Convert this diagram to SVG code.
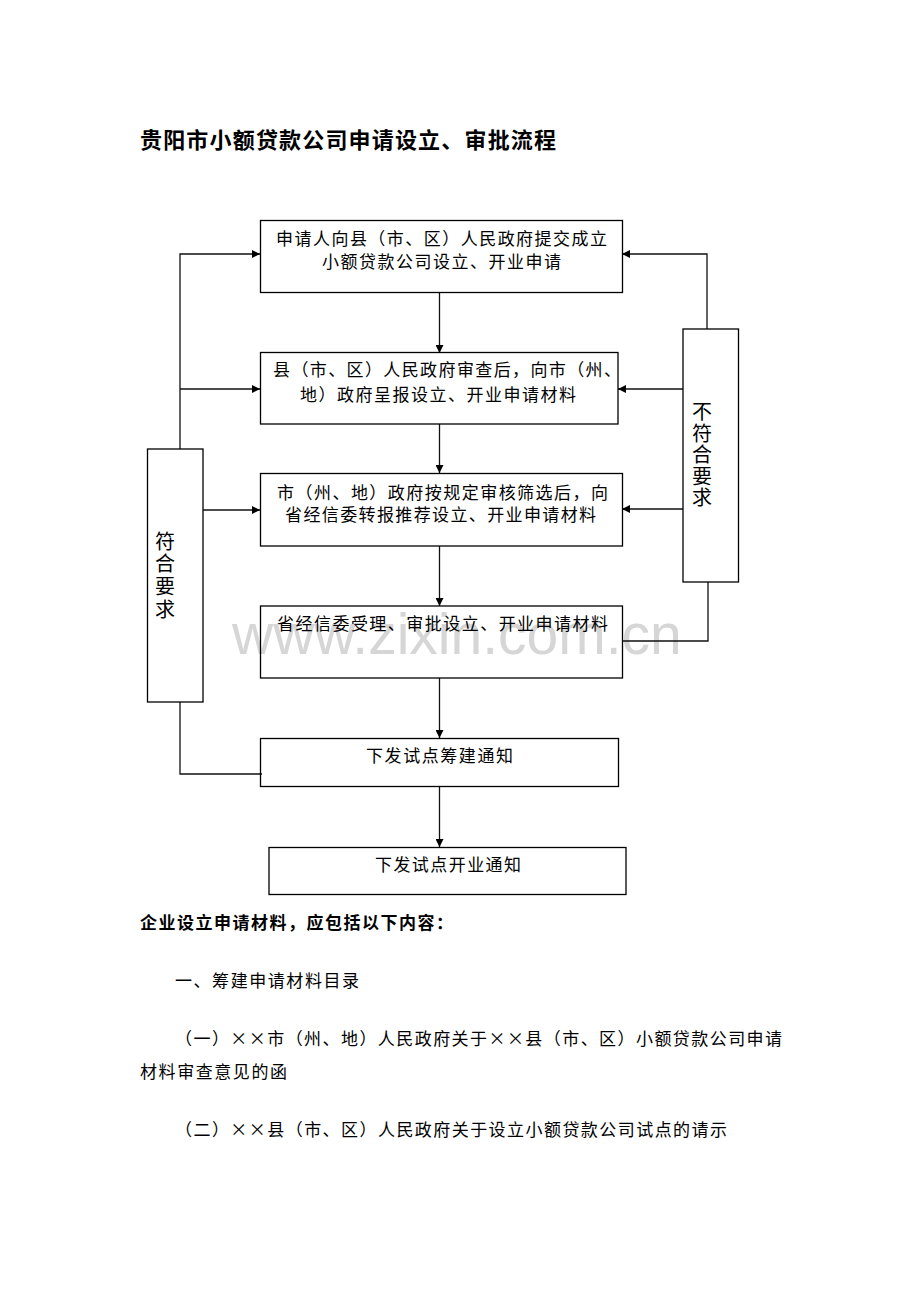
<svg xmlns="http://www.w3.org/2000/svg" width="920" height="1302" viewBox="0 0 920 1302">
<style>
.bx{fill:none;stroke:#000;stroke-width:1.3}
.ln{fill:none;stroke:#111;stroke-width:1.3}
.t{font-family:"Noto Sans CJK SC","Liberation Sans",sans-serif;font-size:17px;fill:#000}
.v{font-family:"Noto Sans CJK SC","Liberation Sans",sans-serif;font-size:20px;fill:#000;writing-mode:vertical-rl;text-orientation:upright}
.h{font-family:"Noto Sans CJK SC","Liberation Sans",sans-serif;font-size:22px;font-weight:bold;fill:#000}
.b{font-family:"Noto Sans CJK SC","Liberation Sans",sans-serif;font-size:17px;font-weight:bold;fill:#000}
.wm{font-family:"Liberation Sans",Arial,sans-serif;font-size:57px;fill:#d6d6d6}
</style>
<defs>
<marker id="ah" viewBox="0 0 10 10" refX="10" refY="5" markerWidth="9" markerHeight="8" markerUnits="userSpaceOnUse" orient="auto">
<path d="M0,0 L10,5 L0,10 Z" fill="#000"/>
</marker>
</defs>
<rect width="920" height="1302" fill="#fff"/>
<text class="h" x="140" y="148" textLength="416" lengthAdjust="spacing">贵阳市小额贷款公司申请设立、审批流程</text>
<text class="wm" x="232" y="654">www.zixin.com.cn</text>
<g id="connectors">
<line class="ln" x1="439.5" y1="292" x2="439.5" y2="353" marker-end="url(#ah)"/>
<line class="ln" x1="439.5" y1="424" x2="439.5" y2="473" marker-end="url(#ah)"/>
<line class="ln" x1="439.5" y1="546" x2="439.5" y2="606" marker-end="url(#ah)"/>
<line class="ln" x1="439.5" y1="678" x2="439.5" y2="738" marker-end="url(#ah)"/>
<line class="ln" x1="439.5" y1="787" x2="439.5" y2="847" marker-end="url(#ah)"/>
<polyline class="ln" points="180,449 180,254 260,254" marker-end="url(#ah)"/>
<line class="ln" x1="180" y1="389" x2="260" y2="389" marker-end="url(#ah)"/>
<line class="ln" x1="203" y1="510" x2="260" y2="510" marker-end="url(#ah)"/>
<polyline class="ln" points="180,702 180,774 262,774"/>
<polyline class="ln" points="707,329 707,254 622,254" marker-end="url(#ah)"/>
<line class="ln" x1="683" y1="389" x2="618" y2="389" marker-end="url(#ah)"/>
<line class="ln" x1="683" y1="509" x2="622" y2="509" marker-end="url(#ah)"/>
<polyline class="ln" points="623,641 708,641 708,582"/>
</g>
<g id="n1">
<rect class="bx" x="260.5" y="220.5" width="362" height="72"/>
<text class="t" x="276" y="245" textLength="331" lengthAdjust="spacing">申请人向县（市、区）人民政府提交成立</text>
<text class="t" x="322" y="268" textLength="239" lengthAdjust="spacing">小额贷款公司设立、开业申请</text>
</g>
<g id="n2">
<rect class="bx" x="260.5" y="352.5" width="357.5" height="71.5"/>
<text class="t" x="273" y="376" textLength="348" lengthAdjust="spacing">县（市、区）人民政府审查后，向市（州、</text>
<text class="t" x="300" y="401" textLength="276" lengthAdjust="spacing">地）政府呈报设立、开业申请材料</text>
</g>
<g id="n3">
<rect class="bx" x="260.5" y="473.5" width="362" height="72.5"/>
<text class="t" x="277" y="498.5" textLength="331" lengthAdjust="spacing">市（州、地）政府按规定审核筛选后，向</text>
<text class="t" x="285" y="521" textLength="311" lengthAdjust="spacing">省经信委转报推荐设立、开业申请材料</text>
</g>
<g id="n4">
<rect class="bx" x="260.5" y="606" width="362" height="72"/>
<text class="t" x="277" y="630" textLength="331" lengthAdjust="spacing">省经信委受理、审批设立、开业申请材料</text>
</g>
<g id="n5">
<rect class="bx" x="260.5" y="738.5" width="358" height="48"/>
<text class="t" x="366" y="762" textLength="147" lengthAdjust="spacing">下发试点筹建通知</text>
</g>
<g id="n6">
<rect class="bx" x="269" y="847.5" width="357" height="47"/>
<text class="t" x="375" y="871" textLength="146" lengthAdjust="spacing">下发试点开业通知</text>
</g>
<g id="yes">
<rect class="bx" x="147.5" y="449" width="55.5" height="253"/>
<text class="v" x="165" y="531" letter-spacing="2.7">符合要求</text>
</g>
<g id="no">
<rect class="bx" x="683" y="329" width="55.5" height="253"/>
<text class="v" x="702" y="401.5" letter-spacing="1.6">不符合要求</text>
</g>
<g id="body">
<text class="b" x="140" y="929" textLength="313" lengthAdjust="spacing">企业设立申请材料，应包括以下内容：</text>
<text class="t" x="175" y="987" textLength="184" lengthAdjust="spacing">一、筹建申请材料目录</text>
<text class="t" x="175" y="1045" textLength="607" lengthAdjust="spacing">（一）××市（州、地）人民政府关于××县（市、区）小额贷款公司申请</text>
<text class="t" x="140" y="1078" textLength="147" lengthAdjust="spacing">材料审查意见的函</text>
<text class="t" x="175" y="1136" textLength="552" lengthAdjust="spacing">（二）××县（市、区）人民政府关于设立小额贷款公司试点的请示</text>
</g>
</svg>
